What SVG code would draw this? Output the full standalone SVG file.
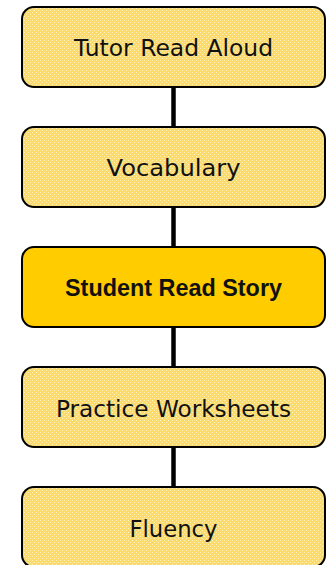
<svg xmlns="http://www.w3.org/2000/svg" width="330" height="565" viewBox="0 0 330 565">
<defs>
<pattern id="dots" width="4" height="4" patternUnits="userSpaceOnUse">
<rect width="4" height="4" fill="#FADB6C"/>
<rect x="0" y="0" width="1" height="1" fill="#FDF0BA"/>
<rect x="2" y="2" width="1" height="1" fill="#FDF0BA"/>
</pattern>
<style>
.box{fill:url(#dots);stroke:#000;stroke-width:2}
.hl{fill:#FFCC00;stroke:#000;stroke-width:2}
.t{font-family:"DejaVu Sans","Liberation Sans",sans-serif;font-size:23.5px;fill:#111;text-anchor:middle}
.b{font-family:"Liberation Sans","DejaVu Sans",sans-serif;font-weight:bold;font-size:23px}
.c{stroke:#000;stroke-width:4.5;fill:none}
</style>
</defs>
<rect width="330" height="565" fill="#fff"/>
<g id="connectors">
<line class="c" x1="173.5" y1="87" x2="173.5" y2="127"/>
<line class="c" x1="173.5" y1="207" x2="173.5" y2="247"/>
<line class="c" x1="173.5" y1="327" x2="173.5" y2="367"/>
<line class="c" x1="173.5" y1="447" x2="173.5" y2="487"/>
</g>
<g id="n1"><rect class="box" x="22" y="7" width="303" height="80" rx="12"/><text class="t" x="173.5" y="55.5" textLength="199" lengthAdjust="spacingAndGlyphs">Tutor Read Aloud</text></g>
<g id="n2"><rect class="box" x="22" y="127" width="303" height="80" rx="12"/><text class="t" x="173.5" y="175.5" textLength="134" lengthAdjust="spacingAndGlyphs">Vocabulary</text></g>
<g id="n3"><rect class="hl" x="22" y="247" width="303" height="80" rx="12"/><text class="t b" x="173.5" y="296" textLength="217" lengthAdjust="spacingAndGlyphs">Student Read Story</text></g>
<g id="n4"><rect class="box" x="22" y="367" width="303" height="80" rx="12"/><text class="t" x="173.5" y="416.5" textLength="235" lengthAdjust="spacingAndGlyphs">Practice Worksheets</text></g>
<g id="n5"><rect class="box" x="22" y="487" width="303" height="80" rx="12"/><text class="t" x="173.5" y="536.5" textLength="88" lengthAdjust="spacingAndGlyphs">Fluency</text></g>
</svg>
